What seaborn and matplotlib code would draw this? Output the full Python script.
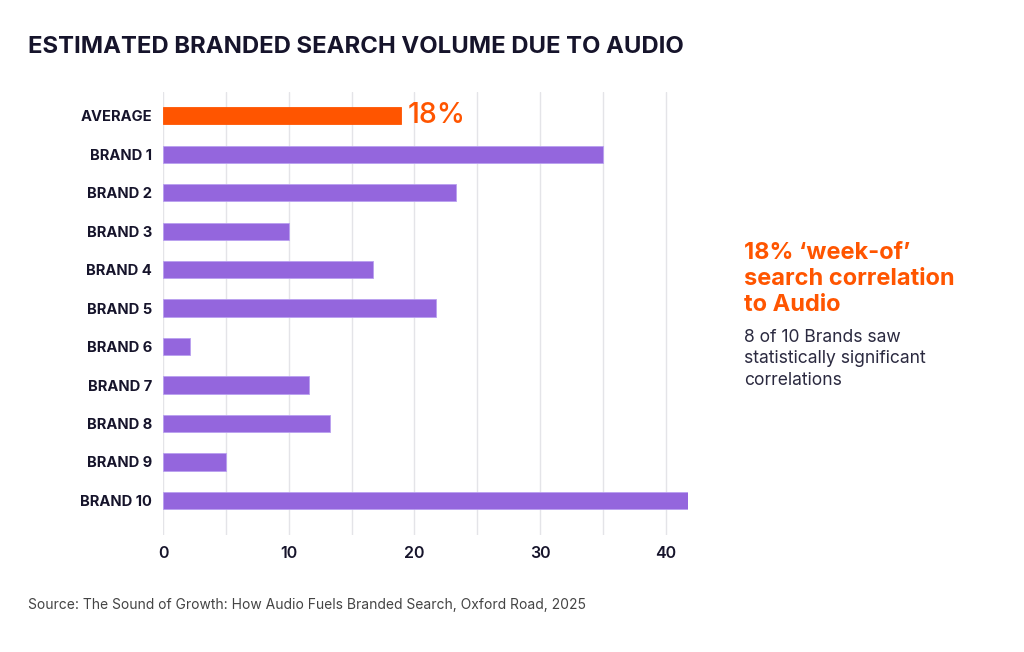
import matplotlib
matplotlib.use("Agg")
import matplotlib.pyplot as plt
import seaborn as sns
import pandas as pd

categories = ["AVERAGE", "BRAND 1", "BRAND 2", "BRAND 3", "BRAND 4", "BRAND 5",
              "BRAND 6", "BRAND 7", "BRAND 8", "BRAND 9", "BRAND 10"]
values = [18.9, 35.0, 23.3, 10.0, 16.7, 21.7, 2.1, 11.6, 13.3, 5.0, 41.8]
xticks = [0, 10, 20, 30, 40]

title = "ESTIMATED BRANDED SEARCH VOLUME DUE TO AUDIO"
avg_label = "18%"
side_head = "18% \u2018week-of\u2019\nsearch correlation\nto Audio"
side_body = "8 of 10 Brands saw\nstatistically significant\ncorrelations"
source = "Source: The Sound of Growth: How Audio Fuels Branded Search, Oxford Road, 2025"

ORANGE = "#FF5500"
PURPLE = "#9466DD"
NAVY = "#16142B"

sns.set_theme(style="white")
plt.rcParams["font.family"] = ["Inter", "DejaVu Sans"]

df = pd.DataFrame({"category": categories, "value": values})
palette = {c: (ORANGE if c == "AVERAGE" else PURPLE) for c in categories}

fig = plt.figure(figsize=(10.24, 6.52), dpi=100)
ax = fig.add_axes([0.1595, 0.1794, 0.5125, 0.6795])

sns.barplot(data=df, x="value", y="category", hue="category", palette=palette,
            legend=False, width=0.45, ax=ax, orient="h", saturation=1,
            edgecolor="#B9A0F0", linewidth=0.6)
ax.patches[0].set_edgecolor(ORANGE)

grid_ticks = [0, 5, 10, 15, 20, 25, 30, 35, 40]
ax.set_xlim(0, 41.8)
ax.set_ylim(10.9, -0.62)
ax.set_xticks(grid_ticks)
ax.set_xticklabels([str(t) if t in xticks else "" for t in grid_ticks])
ax.grid(axis="x", color="#E4E4E8", linewidth=1.0)
ax.set_axisbelow(True)
for s in ax.spines.values():
    s.set_visible(False)
ax.set_xlabel("")
ax.set_ylabel("")
ax.tick_params(axis="y", length=0, pad=8, labelsize=10.6, labelcolor=NAVY)
ax.tick_params(axis="x", length=0, pad=8, labelsize=11.5, labelcolor=NAVY)
for lab in ax.get_yticklabels():
    lab.set_fontweight("bold")
for lab in ax.get_xticklabels():
    lab.set_fontweight("semibold")

ax.text(values[0] + 0.55, 0, avg_label, color=ORANGE, fontsize=20.5,
        fontweight="medium", va="center", ha="left")

fig.text(28 / 1024, 1 - 47 / 652, title, fontsize=17.2, fontweight="bold",
         color=NAVY, va="center", ha="left")
fig.text(744 / 1024, 1 - 242 / 652, side_head, fontsize=17, fontweight="bold",
         color=ORANGE, va="top", ha="left", linespacing=1.24)
fig.text(744 / 1024, 1 - 329 / 652, side_body, fontsize=12.6, color="#2B2A40",
         va="top", ha="left", linespacing=1.34)
fig.text(28 / 1024, 1 - 605 / 652, source, fontsize=10, color="#444444",
         va="center", ha="left")

fig.savefig("out.png", dpi=100, facecolor="white")
